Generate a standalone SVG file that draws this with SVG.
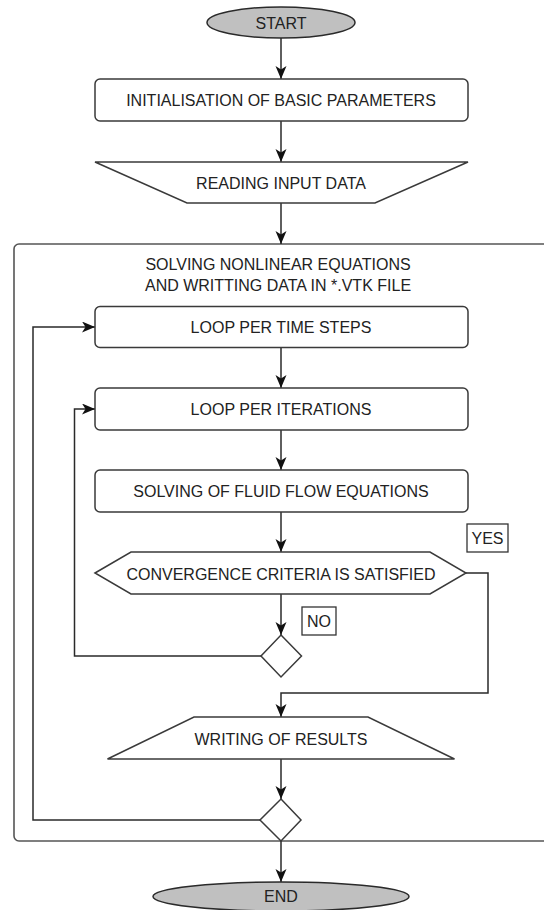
<svg xmlns="http://www.w3.org/2000/svg" width="544" height="910" viewBox="0 0 544 910">
  <defs>
    <marker id="arrow" markerUnits="userSpaceOnUse" markerWidth="14" markerHeight="12" refX="13" refY="5.5" orient="auto">
      <path d="M0,0 L13,5.5 L0,11 L3.5,5.5 Z" fill="#111"/>
    </marker>
    <style>
      .shape { fill: #fff; stroke: #3a3a3a; stroke-width: 1.5; }
      .term { fill: #c0c0c0; stroke: #2a2a2a; stroke-width: 1.5; }
      .frame { fill: none; stroke: #555; stroke-width: 1.6; }
      .label { fill: #fff; stroke: #333; stroke-width: 1.3; }
      .txt { font-family: "Liberation Sans", Arial, sans-serif; font-size: 16px; fill: #222; text-anchor: middle; }
      .conn { fill: none; stroke: #2a2a2a; stroke-width: 1.5; }
      .arr { marker-end: url(#arrow); }
    </style>
  </defs>

  <rect width="544" height="910" fill="#fff"/>

  <!-- enclosing block for the solver section -->
  <g id="solver-block">
    <rect class="frame" x="14" y="244" width="600" height="597" rx="5"/>
    <text class="txt" x="278" y="269.5">SOLVING NONLINEAR EQUATIONS</text>
    <text class="txt" x="278" y="290.7">AND WRITTING DATA IN *.VTK FILE</text>
  </g>

  <!-- connectors -->
  <g id="connectors">
    <line class="conn arr" x1="281" y1="38" x2="281" y2="79"/>
    <line class="conn arr" x1="281" y1="121" x2="281" y2="162"/>
    <line class="conn arr" x1="281" y1="203" x2="281" y2="244"/>
    <line class="conn arr" x1="281" y1="347" x2="281" y2="388"/>
    <line class="conn arr" x1="281" y1="430" x2="281" y2="470"/>
    <line class="conn arr" x1="281" y1="512" x2="281" y2="552"/>
    <line class="conn arr" x1="281" y1="594" x2="281" y2="635"/>
    <!-- YES branch -->
    <polyline class="conn arr" points="466,573 488,573 488,693 281,693 281,717"/>
    <!-- NO branch back to iterations -->
    <polyline class="conn arr" points="261,656 74.5,656 74.5,409 95,409"/>
    <line class="conn arr" x1="281" y1="759" x2="281" y2="799"/>
    <!-- back to time steps -->
    <polyline class="conn arr" points="260,820 33,820 33,327 95,327"/>
    <line class="conn arr" x1="281" y1="841" x2="281" y2="882"/>
  </g>

  <g id="start">
    <ellipse class="term" cx="281" cy="22.5" rx="74" ry="15.5"/>
    <text class="txt" x="281" y="28.5">START</text>
  </g>

  <g id="init">
    <rect class="shape" x="95" y="79" width="373" height="42" rx="5"/>
    <text class="txt" x="281" y="105.7">INITIALISATION OF BASIC PARAMETERS</text>
  </g>

  <g id="read-input">
    <polygon class="shape" points="95,162 468,162 375,203 187,203"/>
    <text class="txt" x="281" y="188.7">READING INPUT DATA</text>
  </g>

  <g id="loop-time">
    <rect class="shape" x="95" y="306.5" width="373" height="41" rx="5"/>
    <text class="txt" x="281" y="332.7">LOOP PER TIME STEPS</text>
  </g>

  <g id="loop-iter">
    <rect class="shape" x="95" y="388" width="373" height="42" rx="5"/>
    <text class="txt" x="281" y="415.2">LOOP PER ITERATIONS</text>
  </g>

  <g id="solve-flow">
    <rect class="shape" x="95" y="470" width="373" height="42" rx="5"/>
    <text class="txt" x="281" y="497.2">SOLVING OF FLUID FLOW EQUATIONS</text>
  </g>

  <g id="convergence">
    <polygon class="shape" points="95,573 131,552 430,552 466,573 430,594 131,594"/>
    <text class="txt" x="281" y="579.5">CONVERGENCE CRITERIA IS SATISFIED</text>
  </g>

  <g id="label-yes">
    <rect class="label" x="467" y="524" width="41" height="28"/>
    <text class="txt" x="487.5" y="544">YES</text>
  </g>

  <g id="label-no">
    <rect class="label" x="302" y="607" width="34" height="28"/>
    <text class="txt" x="319" y="626.7">NO</text>
  </g>

  <g id="merge-iter">
    <polygon class="shape" points="281,635 301.5,656 281,677 261,656"/>
  </g>

  <g id="write-results">
    <polygon class="shape" points="194,717 368,717 454.5,759 107.5,759"/>
    <text class="txt" x="281" y="745">WRITING OF RESULTS</text>
  </g>

  <g id="merge-time">
    <polygon class="shape" points="281,799 301,820 281,841 260,820"/>
  </g>

  <g id="end">
    <ellipse class="term" cx="281" cy="896.5" rx="128" ry="14.5"/>
    <text class="txt" x="281" y="902">END</text>
  </g>
</svg>
